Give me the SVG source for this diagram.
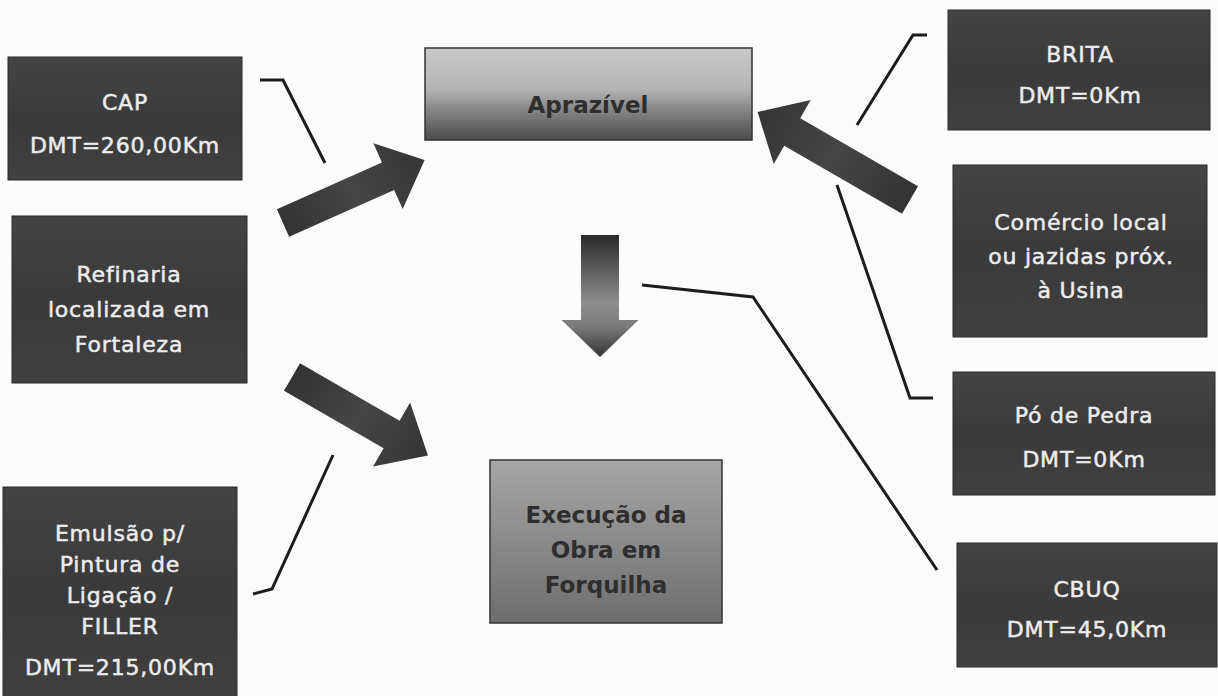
<svg xmlns="http://www.w3.org/2000/svg" width="1218" height="696" viewBox="0 0 1218 696">
<style>
.src{fill:url(#srcGrad);stroke:#2a2a2a;stroke-width:1}
.lt{font-family:"DejaVu Sans","Liberation Sans",sans-serif;font-size:22px;fill:#ececec;stroke:#ececec;stroke-width:0.5;text-anchor:middle;letter-spacing:0.8px}
.dk{font-family:"DejaVu Sans","Liberation Sans",sans-serif;font-size:23px;font-weight:bold;fill:#2e2e2e;text-anchor:middle}
.con{fill:none;stroke:#1c1c1c;stroke-width:3;stroke-linejoin:miter}
.arr{fill:url(#arrGrad)}
</style>
<defs>
<linearGradient id="srcGrad" x1="0" y1="0" x2="0" y2="1">
<stop offset="0" stop-color="#444"/>
<stop offset="0.5" stop-color="#3a3a3a"/>
<stop offset="1" stop-color="#404040"/>
</linearGradient>
<linearGradient id="aprGrad" x1="0" y1="0" x2="0" y2="1">
<stop offset="0" stop-color="#c9c9c9"/>
<stop offset="0.45" stop-color="#b4b4b4"/>
<stop offset="0.65" stop-color="#8a8a8a"/>
<stop offset="1" stop-color="#4a4a4a"/>
</linearGradient>
<linearGradient id="exeGrad" x1="0" y1="0" x2="0" y2="1">
<stop offset="0" stop-color="#a6a6a6"/>
<stop offset="0.5" stop-color="#8a8a8a"/>
<stop offset="1" stop-color="#6e6e6e"/>
</linearGradient>
<linearGradient id="arrGrad" x1="0" y1="0" x2="1" y2="0">
<stop offset="0" stop-color="#333"/>
<stop offset="0.5" stop-color="#464646"/>
<stop offset="1" stop-color="#353535"/>
</linearGradient>
<linearGradient id="downGrad" x1="0" y1="0" x2="1" y2="0">
<stop offset="0" stop-color="#2a2a2a"/>
<stop offset="0.55" stop-color="#8e8e8e"/>
<stop offset="0.75" stop-color="#7a7a7a"/>
<stop offset="1" stop-color="#333"/>
</linearGradient>
</defs>
<rect x="0" y="0" width="1218" height="696" fill="#fbfbfb"/>

<g id="connectors">
<path class="con" d="M260,80 L283,80 L325,163"/>
<path class="con" d="M253,594 L272,589 L333,455"/>
<path class="con" d="M927,35 L913,35 L857,125"/>
<path class="con" d="M933,398 L910,398 L837,185"/>
<path class="con" d="M642,285 L753,297 L937,570"/>
<path class="arr" transform="translate(283,223) rotate(-24)" d="M0,-15 L115,-15 L115,-36 L155,0 L115,36 L115,15 L0,15 Z"/>
<path class="arr" transform="translate(292,377) rotate(30)" d="M0,-16 L115,-16 L115,-37 L157,0 L115,37 L115,16 L0,16 Z"/>
<path class="arr" transform="translate(910,200) rotate(210)" d="M0,-16 L136,-16 L136,-37 L176,0 L136,37 L136,16 L0,16 Z"/>
<path fill="url(#downGrad)" transform="translate(600,235) rotate(90)" d="M0,-19 L85,-19 L85,-38.5 L122,0 L85,38.5 L85,19 L0,19 Z"/>
</g>

<g id="cap">
<rect class="src" x="8" y="57" width="234" height="123"/>
<text class="lt" x="125" y="110">CAP</text>
<text class="lt" x="125" y="153">DMT=260,00Km</text>
</g>

<g id="refinaria">
<rect class="src" x="12" y="216" width="235" height="167"/>
<text class="lt" x="129" y="282">Refinaria</text>
<text class="lt" x="129" y="317">localizada em</text>
<text class="lt" x="129" y="352">Fortaleza</text>
</g>

<g id="emulsao">
<rect class="src" x="3" y="487" width="234" height="212"/>
<text class="lt" x="120" y="541">Emulsão p/</text>
<text class="lt" x="120" y="572">Pintura de</text>
<text class="lt" x="120" y="603">Ligação /</text>
<text class="lt" x="120" y="634">FILLER</text>
<text class="lt" x="120" y="675">DMT=215,00Km</text>
</g>

<g id="aprazivel">
<rect x="425" y="48" width="327" height="92" fill="url(#aprGrad)" stroke="#333" stroke-width="1.5"/>
<text class="dk" x="588" y="113">Aprazível</text>
</g>

<g id="execucao">
<rect x="490" y="460" width="232" height="163" fill="url(#exeGrad)" stroke="#333" stroke-width="1.5"/>
<text class="dk" x="606" y="523">Execução da</text>
<text class="dk" x="606" y="558">Obra em</text>
<text class="dk" x="606" y="593">Forquilha</text>
</g>

<g id="brita">
<rect class="src" x="948" y="10" width="262" height="120"/>
<text class="lt" x="1080" y="62">BRITA</text>
<text class="lt" x="1080" y="103">DMT=0Km</text>
</g>

<g id="comercio">
<rect class="src" x="953" y="165" width="254" height="172"/>
<text class="lt" x="1081" y="230">Comércio local</text>
<text class="lt" x="1081" y="264">ou jazidas próx.</text>
<text class="lt" x="1081" y="298">à Usina</text>
</g>

<g id="po-de-pedra">
<rect class="src" x="953" y="372" width="262" height="123"/>
<text class="lt" x="1084" y="423">Pó de Pedra</text>
<text class="lt" x="1084" y="467">DMT=0Km</text>
</g>

<g id="cbuq">
<rect class="src" x="957" y="543" width="260" height="124"/>
<text class="lt" x="1087" y="597">CBUQ</text>
<text class="lt" x="1087" y="637">DMT=45,0Km</text>
</g>
</svg>
